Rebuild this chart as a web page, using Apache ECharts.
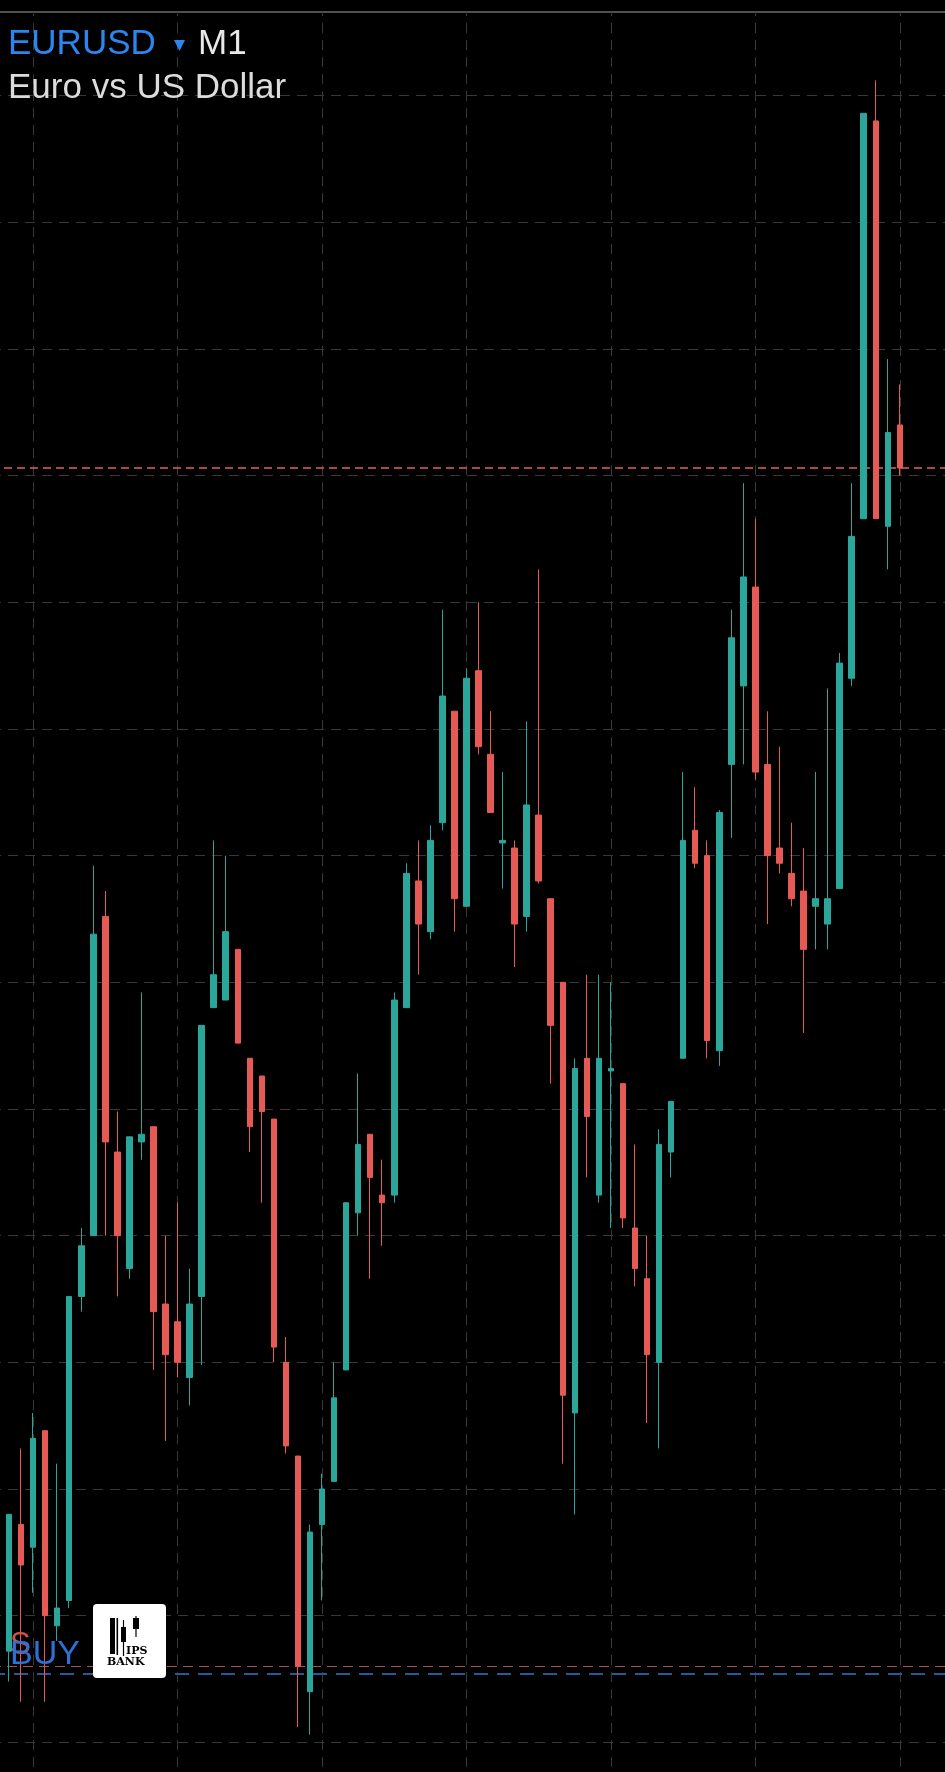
<!DOCTYPE html>
<html>
<head>
<meta charset="utf-8">
<style>
  html, body { margin: 0; padding: 0; background: #000; overflow: hidden; }
  #wrap { position: relative; width: 945px; height: 1772px; overflow: hidden; background: #000; }
  #chart { position: absolute; left: -9px; top: 0; width: 963px; height: 1869px; }
</style>
<script src="https://cdn.jsdelivr.net/npm/echarts@6/dist/echarts.min.js"></script>
</head>
<body>
<div id="wrap"><div id="chart"></div></div>
<script>
// ---------- data ----------
const SYMBOL = 'EURUSD';
const TIMEFRAME = 'M1';
const DESCRIPTION = 'Euro vs US Dollar';

const CATEGORIES = [
  '14:04','14:05','14:06','14:07','14:08','14:09',
  '14:10','14:11','14:12','14:13','14:14','14:15','14:16','14:17','14:18','14:19',
  '14:20','14:21','14:22','14:23','14:24','14:25','14:26','14:27','14:28','14:29',
  '14:30','14:31','14:32','14:33','14:34','14:35','14:36','14:37','14:38','14:39',
  '14:40','14:41','14:42','14:43','14:44','14:45','14:46','14:47','14:48','14:49',
  '14:50','14:51','14:52','14:53','14:54','14:55','14:56','14:57','14:58','14:59',
  '15:00','15:01','15:02','15:03','15:04','15:05','15:06','15:07','15:08','15:09',
  '15:10','15:11','15:12','15:13','15:14','15:15','15:16','15:17','15:18','15:19',
  '15:20','15:21','15:22','15:23'
];

const OPEN = [
  1.08027,1.08086,1.08136,1.08127,1.08173,1.08096,1.08106,1.08226,1.08250,1.08376,
  1.08283,1.08237,1.08287,1.08293,1.08223,1.08216,1.08194,1.08226,1.08340,1.08343,
  1.08363,1.08320,1.08313,1.08296,1.08200,1.08163,1.08070,1.08136,1.08153,1.08197,
  1.08259,1.08290,1.08266,1.08266,1.08340,1.08390,1.08370,1.08413,1.08457,1.08380,
  1.08473,1.08440,1.08405,1.08403,1.08376,1.08416,1.08383,1.08350,1.08180,1.08320,
  1.08266,1.08315,1.08310,1.08253,1.08233,1.08200,1.08283,1.08320,1.08410,1.08400,
  1.08323,1.08436,1.08467,1.08506,1.08436,1.08403,1.08393,1.08386,1.08380,1.08373,
  1.08387,1.08470,1.08533,1.08690,1.08530,1.08570
];
const CLOSE = [
  1.08084,1.08140,1.08120,1.08170,1.08100,1.08103,1.08226,1.08246,1.08369,1.08287,
  1.08250,1.08289,1.08290,1.08220,1.08203,1.08200,1.08223,1.08333,1.08353,1.08370,
  1.08326,1.08293,1.08299,1.08206,1.08167,1.08080,1.08133,1.08150,1.08186,1.08263,
  1.08286,1.08273,1.08263,1.08343,1.08393,1.08373,1.08406,1.08463,1.08383,1.08470,
  1.08443,1.08417,1.08406,1.08373,1.08420,1.08390,1.08333,1.08187,1.08316,1.08297,
  1.08320,1.08316,1.08257,1.08237,1.08203,1.08286,1.08303,1.08406,1.08397,1.08327,
  1.08417,1.08486,1.08510,1.08433,1.08400,1.08397,1.08383,1.08363,1.08383,1.08383,
  1.08476,1.08526,1.08693,1.08533,1.08567,1.08553
];
const LOW = [
  1.08015,1.08074,1.08066,1.08109,1.08066,1.08090,1.08103,1.08220,1.08250,1.08250,
  1.08226,1.08233,1.08280,1.08197,1.08169,1.08194,1.08183,1.08199,1.08340,1.08343,
  1.08326,1.08283,1.08263,1.08200,1.08164,1.08056,1.08053,1.08106,1.08153,1.08197,
  1.08250,1.08233,1.08246,1.08263,1.08340,1.08353,1.08367,1.08410,1.08370,1.08380,
  1.08440,1.08417,1.08387,1.08356,1.08370,1.08389,1.08310,1.08160,1.08140,1.08273,
  1.08263,1.08253,1.08253,1.08230,1.08176,1.08166,1.08273,1.08320,1.08395,1.08320,
  1.08317,1.08407,1.08436,1.08430,1.08373,1.08393,1.08380,1.08330,1.08363,1.08363,
  1.08387,1.08467,1.08533,1.08533,1.08513,1.08550
];
const HIGH = [
  1.08084,1.08140,1.08166,1.08180,1.08173,1.08160,1.08226,1.08253,1.08396,1.08386,
  1.08299,1.08289,1.08346,1.08293,1.08250,1.08263,1.08237,1.08333,1.08406,1.08400,
  1.08363,1.08320,1.08313,1.08296,1.08210,1.08163,1.08136,1.08156,1.08200,1.08263,
  1.08314,1.08290,1.08280,1.08346,1.08397,1.08406,1.08412,1.08497,1.08457,1.08474,
  1.08500,1.08457,1.08433,1.08406,1.08453,1.08513,1.08383,1.08350,1.08320,1.08353,
  1.08353,1.08350,1.08310,1.08286,1.08250,1.08292,1.08303,1.08433,1.08427,1.08406,
  1.08418,1.08497,1.08547,1.08533,1.08457,1.08443,1.08413,1.08403,1.08433,1.08466,
  1.08480,1.08547,1.08693,1.08706,1.08596,1.08586
];

const BID_PRICE = 1.08553;   // last price line (red dashed)
const SL_PRICE = 1.08080;    // red line near bottom
const BUY_PRICE = 1.08077;   // blue position line
const GRID_TIMES = ['14:07','14:19','14:31','14:43','14:55','15:07','15:19'];

const Y_MIN = 1.0800;
const Y_MAX = 1.08733;
const Y_STEP = 0.0005;

// ---------- styles ----------
const UP = '#2aa69a';
const DOWN = '#e65a55';
const GRID_COLOR = '#383838';
const OX = 9; // chart container starts 9px left of the page

const candleData = OPEN.map((o, i) => [o, CLOSE[i], LOW[i], HIGH[i]]);

const chart = echarts.init(document.getElementById('chart'), null, { renderer: 'canvas' });

const gridLines = GRID_TIMES.map(t => ({
  xAxis: t,
  lineStyle: { color: GRID_COLOR, type: [10, 7], width: 1 }
}));

const HEAD_FONT = '35px "Liberation Sans", Arial, sans-serif';

const option = {
  backgroundColor: '#000000',
  animation: false,
  grid: { left: 0, right: 0, top: 12, bottom: 0, containLabel: false },
  xAxis: {
    type: 'category',
    data: CATEGORIES,
    position: 'top',
    boundaryGap: true,
    axisLine: { show: true, onZero: false, lineStyle: { color: '#505050', width: 2 } },
    axisTick: { show: false },
    axisLabel: { show: false },
    splitLine: { show: false }
  },
  yAxis: {
    type: 'value',
    min: Y_MIN,
    max: Y_MAX,
    interval: Y_STEP,
    axisLine: { show: false },
    axisTick: { show: false },
    axisLabel: { show: false },
    splitLine: { show: true, lineStyle: { color: GRID_COLOR, type: [10, 7], width: 1 } }
  },
  series: [
    {
      type: 'candlestick',
      z: 3,
      data: candleData,
      barWidth: 6,
      itemStyle: {
        color: UP,
        color0: DOWN,
        borderColor: UP,
        borderColor0: DOWN,
        borderWidth: 1
      },
      markLine: {
        z: 1,
        silent: true,
        precision: 5,
        symbol: ['none', 'none'],
        label: { show: false },
        animation: false,
        data: gridLines.concat([
          { yAxis: BID_PRICE, lineStyle: { color: '#e0625c', type: [8, 5], width: 1.5 } },
          { yAxis: SL_PRICE, lineStyle: { color: '#a9504c', type: [10, 6], width: 1 } },
          { yAxis: BUY_PRICE, lineStyle: { color: '#2b5797', type: [14, 9], width: 2 } }
        ])
      }
    }
  ],
  graphic: [
    // header
    { type: 'text', x: 8 + OX, y: 44, z: 100, style: { text: SYMBOL, fill: '#2b86f0', font: HEAD_FONT, verticalAlign: 'middle' } },
    { type: 'polygon', z: 100, shape: { points: [[174 + OX, 40], [185 + OX, 40], [179.5 + OX, 51]] }, style: { fill: '#2b86f0' } },
    { type: 'text', x: 198 + OX, y: 44, z: 100, style: { text: TIMEFRAME, fill: '#e8e8e8', font: HEAD_FONT, verticalAlign: 'middle' } },
    { type: 'text', x: 8 + OX, y: 88, z: 100, style: { text: DESCRIPTION, fill: '#dcdcdc', font: HEAD_FONT, verticalAlign: 'middle' } },
    // position labels
    { type: 'text', x: 10 + OX, y: 1645, z: 100, style: { text: 'S', fill: '#d0504c', font: '31px "Liberation Sans", Arial, sans-serif', verticalAlign: 'middle' } },
    { type: 'text', x: 10 + OX, y: 1655, z: 101, style: { text: 'BUY', fill: '#2f6fd6', font: '34px "Liberation Sans", Arial, sans-serif', verticalAlign: 'middle' } },
    // logo
    { type: 'rect', z: 110, shape: { x: 93 + OX, y: 1604, width: 73, height: 74, r: 4 }, style: { fill: '#ffffff' } },
    { type: 'rect', z: 111, shape: { x: 110 + OX, y: 1618, width: 5, height: 36 }, style: { fill: '#000' } },
    { type: 'rect', z: 111, shape: { x: 116.5 + OX, y: 1618, width: 1.6, height: 37 }, style: { fill: '#000' } },
    { type: 'line', z: 111, shape: { x1: 123.5 + OX, y1: 1620, x2: 123.5 + OX, y2: 1656 }, style: { stroke: '#000', lineWidth: 1.2 } },
    { type: 'rect', z: 111, shape: { x: 121 + OX, y: 1627, width: 5, height: 15 }, style: { fill: '#000' } },
    { type: 'line', z: 111, shape: { x1: 136 + OX, y1: 1616, x2: 136 + OX, y2: 1637 }, style: { stroke: '#000', lineWidth: 1.2 } },
    { type: 'rect', z: 111, shape: { x: 133 + OX, y: 1618, width: 6, height: 11 }, style: { fill: '#000' } },
    { type: 'text', x: 126 + OX, y: 1651, z: 111, style: { text: 'IPS', fill: '#000', font: 'bold 11px "DejaVu Serif", serif', verticalAlign: 'middle' } },
    { type: 'text', x: 107 + OX, y: 1662, z: 111, style: { text: 'BANK', fill: '#000', font: 'bold 11px "DejaVu Serif", serif', verticalAlign: 'middle' } }
  ]
};

chart.setOption(option);
</script>
</body>
</html>
